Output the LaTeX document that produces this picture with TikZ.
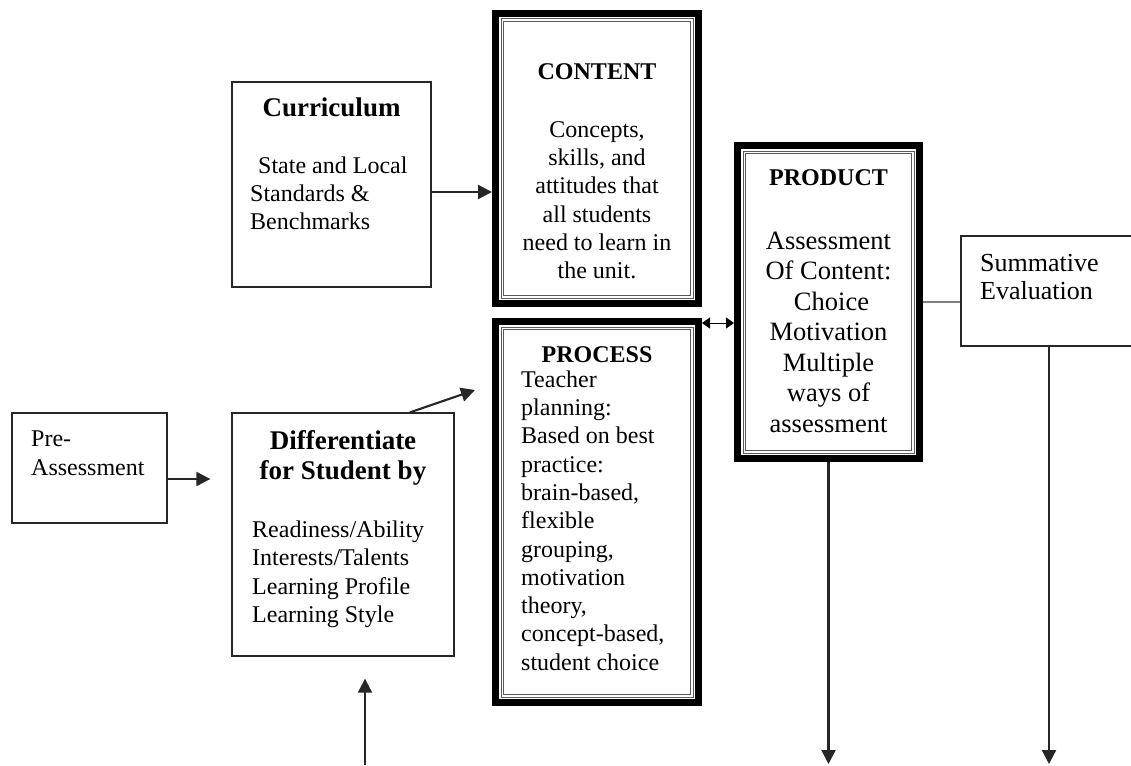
\documentclass[tikz,border=0pt]{standalone}
\usepackage{fontspec}
\setmainfont{Liberation Serif}
\usetikzlibrary{arrows.meta}
\begin{document}
\begin{tikzpicture}[x=1pt,y=-1pt,
  plainbox/.style={draw=black!85, line width=1.3pt, inner sep=0pt},
  heavybox/.style={draw=black, line width=7pt, inner sep=0pt},
  innerline/.style={draw=black!65, line width=1pt},
  body/.style={inner sep=0pt, font=\fontsize{24}{28.3}\selectfont},
  bigbody/.style={inner sep=0pt, font=\fontsize{26.5}{30.5}\selectfont},
  head/.style={inner sep=0pt, font=\bfseries\fontsize{27}{30}\selectfont},
  headsm/.style={inner sep=0pt, font=\bfseries\fontsize{24}{28}\selectfont},
  arr/.style={draw=black!85, line width=2.1pt, -{Triangle[length=14pt,width=14pt]}},
  arrtwo/.style={draw=black, line width=1pt, {Triangle[length=8pt,width=11pt]}-{Triangle[length=8pt,width=11pt]}}]
\useasboundingbox (0,0) rectangle (1131,765);
\fill[white] (0,0) rectangle (1131,765);
\clip (0,0) rectangle (1131,765);

% boxes
\node[plainbox, minimum width=199pt, minimum height=205pt] (cur) at (331.5,184.5) {};
\node[heavybox, minimum width=203pt, minimum height=290pt] (con) at (597,158.5) {};
\node[heavybox, minimum width=203pt, minimum height=381pt] (pro) at (597,512) {};
\node[heavybox, minimum width=182pt, minimum height=313pt] (prd) at (828.5,302) {};
\node[plainbox, minimum width=176pt, minimum height=110pt] (sum) at (1049,291) {};
\node[plainbox, minimum width=155pt, minimum height=110pt] (pre) at (89.5,468) {};
\node[plainbox, minimum width=222pt, minimum height=243pt] (dif) at (343,534.5) {};

\foreach \n in {con,pro,prd} {
  \draw[innerline] ([shift={(9,9)}]\n.north west) rectangle ([shift={(-9,-9)}]\n.south east);
  \draw[innerline] ([shift={(11.5,11.5)}]\n.north west) rectangle ([shift={(-11.5,-11.5)}]\n.south east);
}

% texts
\node[head, anchor=base] (curT) at (331.5,117) {Curriculum};
\node[body, anchor=north west, align=left] (curB) at (250,153)
  {\rule{0pt}{20pt}\hspace*{8pt}State and Local\\Standards \&\\Benchmarks};

\node[headsm, anchor=base] (conT) at (597,80) {CONTENT};
\node[body, anchor=north, align=center] (conB) at (597,117)
  {\rule{0pt}{20pt}Concepts,\\skills, and\\attitudes that\\all students\\need to learn in\\the unit.};

\node[headsm, anchor=base] (proT) at (597,362) {PROCESS};
\node[body, anchor=north west, align=left] (proB) at (521,367)
  {\rule{0pt}{20pt}Teacher\\planning:\\Based on best\\practice:\\brain-based,\\flexible\\grouping,\\motivation\\theory,\\concept-based,\\student choice};

\node[headsm, anchor=base] (prdT) at (828.5,185) {PRODUCT};
\node[bigbody, anchor=north, align=center] (prdB) at (828.5,228)
  {\rule{0pt}{21pt}Assessment\\Of Content:\\\hspace*{6pt}Choice\\Motivation\\Multiple\\ways of\\assessment};

\node[bigbody, anchor=north west, align=left, font=\fontsize{26}{28.5}\selectfont] (sumB) at (980,250)
  {\rule{0pt}{21pt}Summative\\Evaluation};

\node[body, anchor=north west, align=left, font=\fontsize{24}{29}\selectfont] (preB) at (31,426)
  {\rule{0pt}{20pt}Pre-\\Assessment};

\node[head, anchor=north, align=center] (difT) at (343,427)
  {\rule{0pt}{22pt}Differentiate\\for Student by};
\node[body, anchor=north west, align=left, font=\fontsize{24}{28.5}\selectfont] (difB) at (252,517)
  {\rule{0pt}{20pt}Readiness/Ability\\Interests/Talents\\Learning Profile\\Learning Style};

% connectors
\draw[arr] ([yshift=-7.5pt]cur.east) -- ([yshift=-7.5pt]cur.east -| con.west);
\draw[arr, shorten >=21pt] ([yshift=-11pt]pre.east) -- ([yshift=-11pt]pre.east -| dif.west);
\coordinate (dp) at (475,390);
\draw[arr] ([xshift=67pt]dif.north) -- (dp);
\coordinate (ub) at (365,765);
\draw[arr, shorten >=22pt] (ub) -- (ub |- dif.south);
\draw[arrtwo] ([yshift=-5pt]pro.north east) -- ([yshift=-5pt]pro.north east -| prd.west);
\draw[gray, line width=1.5pt] (prd.east) -- (prd.east -| sum.west);
\coordinate (pe) at (828.5,764);
\draw[arr] (prd.south) -- (pe);
\coordinate (se) at (1049,764);
\draw[arr] (sum.south) -- (se);
\end{tikzpicture}
\end{document}
